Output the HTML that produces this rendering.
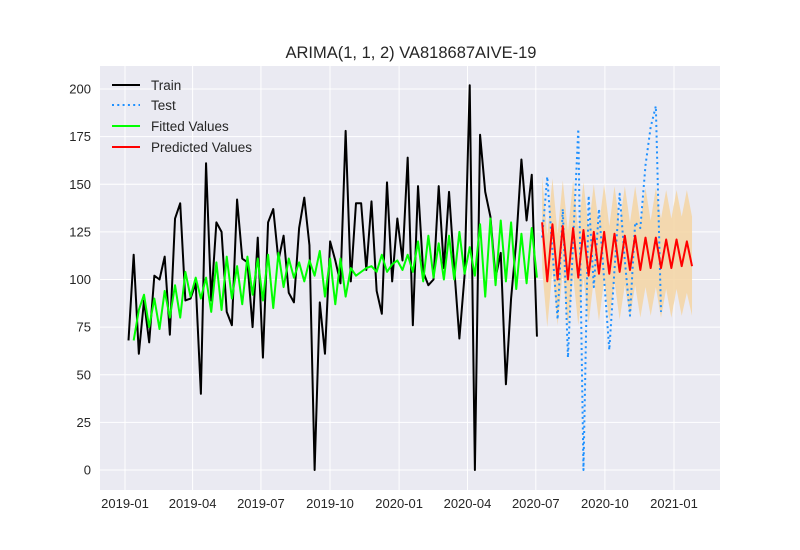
<!DOCTYPE html>
<html><head><meta charset="utf-8"><style>
body{margin:0;background:#fff}
svg{display:block;font-family:"Liberation Sans",Arial,sans-serif}
</style></head><body>
<svg id="chart" width="800" height="550" viewBox="0 0 800 550" xmlns="http://www.w3.org/2000/svg">
<rect x="0" y="0" width="800" height="550" fill="#fff"/>
<text x="411" y="58" text-anchor="middle" font-size="16.5" fill="#262626">ARIMA(1, 1, 2) VA818687AIVE-19</text>
<rect x="100" y="66" width="620" height="424" fill="#eaeaf2"/>
<g id="grid"></g>
<g id="ticks"></g>
<g id="series"></g>
<g>
<line x1="112" y1="85" x2="140" y2="85" stroke="#000" stroke-width="2"/>
<text x="151" y="90" font-size="13.5" fill="#262626">Train</text>
<line x1="112" y1="105" x2="140" y2="105" stroke="#1e90ff" stroke-width="2" stroke-dasharray="2,3.3"/>
<text x="151" y="110" font-size="13.5" fill="#262626">Test</text>
<line x1="112" y1="126" x2="140" y2="126" stroke="#00ff00" stroke-width="2"/>
<text x="151" y="131" font-size="13.5" fill="#262626">Fitted Values</text>
<line x1="112" y1="147" x2="140" y2="147" stroke="#ff0000" stroke-width="2"/>
<text x="151" y="152" font-size="13.5" fill="#262626">Predicted Values</text>
</g>
</svg>
<script>
const train=[68,113,61,89,67,102,100,112,71,132,140,89,90,98,40,161,89,130,125,83,76,142,111,109,75,122,59,130,137,110,123,93,88,127,143,118,0,88,61,120,110,98,178,99,140,140,105,141,94,82,151,99,132,110,164,76,149,104,97,100,149,106,146,106,69,102,202,0,176,146,133,101,114,45,90,120,163,131,155,70];
const fitted=[null,68,84,92,75,90,74,94,80,97,80,104,91,101,90,101,83,109,84,112,90,107,87,112,92,111,89,113,85,114,96,111,101,109,99,110,102,115,91,111,87,111,91,106,102,104,106,107,104,113,104,108,110,105,113,104,120,99,123,101,119,100,123,100,125,103,117,102,129,91,132,97,131,99,130,95,124,98,127,101];
const test=[122,154,115,79,137,59,120,179,0,144,96,137,100,63,105,145,110,81,130,127,160,180,191,83];
const predicted=[130,99,129,100,128,100,127,101,126,102,125,103,125,103,124,104,123,105,123,105,122,106,122,106,121,106,121,107,120,107];
const upper=[154,123,153,124,152,125,152,126,151,127,150,128,150,128,149,129,149,130,149,130,148,131,148,132,147,132,147,133,147,133];
const lower=[106,75,105,76,104,75,102,76,101,77,100,78,100,78,99,79,97,80,97,80,96,81,96,80,95,80,95,81,93,81];
const yTicks=[0,25,50,75,100,125,150,175,200];
const xTickLabels=["2019-01","2019-04","2019-07","2019-10","2020-01","2020-04","2020-07","2020-10","2021-01"];
const testStart=80;
const NS="http://www.w3.org/2000/svg";
const xs=i=>128.5+i*5.17;
const ys=v=>470-v*1.905;
const dayMs=86400000, d0=Date.UTC(2019,0,1);
const xd=s=>{const [y,m]=s.split("-").map(Number);return 125+(Date.UTC(y,m-1,1)-d0)/dayMs*0.751;};
function mk(tag,attrs,parent){const e=document.createElementNS(NS,tag);for(const k in attrs)e.setAttribute(k,attrs[k]);parent.appendChild(e);return e;}
const grid=document.getElementById('grid'),ticks=document.getElementById('ticks'),ser=document.getElementById('series');
yTicks.forEach(v=>{
 const l=mk('line',{x1:100,x2:720,y1:ys(v),y2:ys(v),stroke:'#fff','stroke-width':1},grid);
 
 
 const t=mk('text',{x:91,y:ys(v)+4.5,'text-anchor':'end','font-size':13,fill:'#262626'},ticks);
 t.textContent=v;
 
 
});
xTickLabels.forEach(s=>{
 const x=xd(s);
 const l=mk('line',{x1:x,x2:x,y1:66,y2:490,stroke:'#fff','stroke-width':1},grid);
 
 
 const t=mk('text',{x:x,y:508,'text-anchor':'middle','font-size':13,fill:'#262626'},ticks);
 t.textContent=s;
 
 
});
let pts=[];
upper.forEach((v,i)=>pts.push(xs(testStart+i)+','+ys(v)));
for(let i=lower.length-1;i>=0;i--)pts.push(xs(testStart+i)+','+ys(lower[i]));
const band=mk('polygon',{points:pts.join(' '),fill:'#f5d5a3','fill-opacity':0.85},ser);


function line(arr,off,attrs,name){
 const p=[];arr.forEach((v,i)=>{if(v!==null)p.push(xs(off+i)+','+ys(v));});
 const e=mk('polyline',Object.assign({points:p.join(' '),fill:'none','stroke-linejoin':'round'},attrs),ser);
 
 
}
line(train,0,{stroke:'#000','stroke-width':2},'train-line');
line(test,testStart,{stroke:'#1e90ff','stroke-width':2,'stroke-dasharray':'2,3.3'},'test-line');
line(fitted,0,{stroke:'#00ff00','stroke-width':2},'fitted-line');
line(predicted,testStart,{stroke:'#ff0000','stroke-width':2},'predicted-line');
</script>
</body></html>
